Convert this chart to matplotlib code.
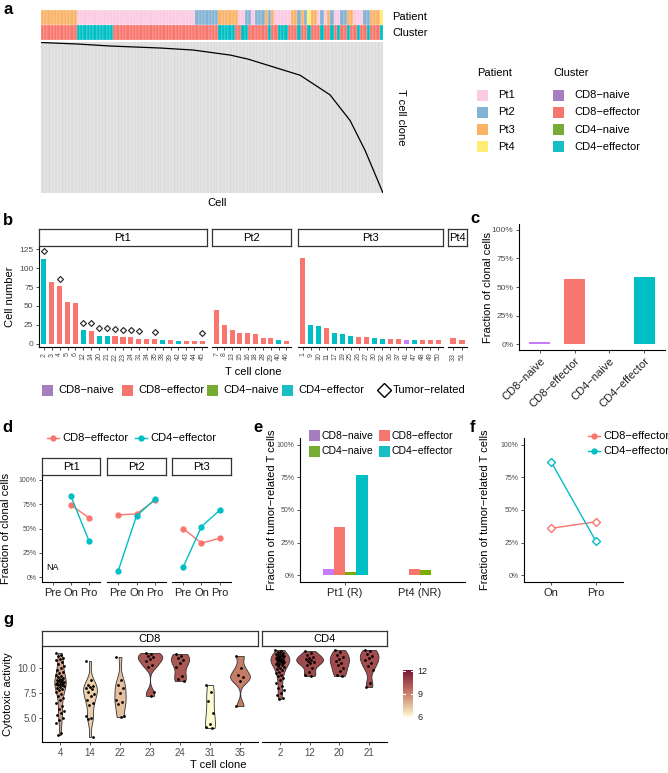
import numpy as np
import matplotlib
matplotlib.use("Agg")
import matplotlib.pyplot as plt
from matplotlib.patches import Rectangle
from matplotlib.lines import Line2D
from matplotlib.colors import LinearSegmentedColormap, Normalize

plt.rcParams['font.family'] = ['Liberation Sans', 'DejaVu Sans']

# ---------------- data ----------------
# panel a: per-column annotation (run lengths) and clone curve
patient_runs = [('Pt3', 11), ('Pt1', 36), ('Pt2', 7), ('Pt3', 6), ('Pt1', 2), ('Pt2', 2), ('Pt1', 1),
                ('Pt2', 3), ('Pt3', 1), ('Pt2', 1), ('Pt3', 1), ('Pt1', 5), ('Pt3', 2), ('Pt2', 1),
                ('Pt3', 1), ('Pt2', 1), ('Pt4', 1), ('Pt3', 2), ('Pt1', 1), ('Pt2', 1), ('Pt1', 1),
                ('Pt3', 1), ('Pt2', 1), ('Pt1', 2), ('Pt2', 2), ('Pt3', 2), ('Pt1', 3), ('Pt2', 2),
                ('Pt3', 3), ('Pt4', 1)]
cluster_runs = [('CD8-effector', 11), ('CD4-effector', 11), ('CD8-effector', 32), ('CD4-effector', 5),
                ('CD8-effector', 2), ('CD4-effector', 2), ('CD8-effector', 6), ('CD4-effector', 1),
                ('CD8-effector', 2), ('CD4-effector', 3), ('CD8-effector', 3), ('CD4-effector', 1),
                ('CD8-effector', 2), ('CD4-effector', 1), ('CD8-effector', 3), ('CD4-effector', 1),
                ('CD8-effector', 2), ('CD4-effector', 1), ('CD8-effector', 1), ('CD4-effector', 1),
                ('CD8-effector', 2), ('CD4-effector', 1), ('CD8-effector', 2), ('CD4-effector', 1),
                ('CD8-effector', 2), ('CD4-effector', 1), ('CD8-effector', 3), ('CD4-effector', 1)]
curve_cells = [0, 112, 212, 364, 464, 576, 630, 788, 879, 940, 986, 1040]
curve_clone = [1, 4, 8, 12, 16, 26, 34, 66, 105, 156, 216, 300]
n_cells, n_clones = 1040, 300

# panel b: clone sizes per patient
pt1_clone = ['2', '3', '4', '5', '6', '12', '14', '20', '21', '22', '23', '24', '31', '34', '35', '38', '39', '42', '43', '44', '45']
pt1_count = [112, 81, 76, 55, 54, 18, 17, 11, 11, 10, 9, 9, 7, 6, 6, 5, 5, 4, 4, 4, 4]
pt1_type = ['CD4-effector', 'CD8-effector', 'CD8-effector', 'CD8-effector', 'CD8-effector', 'CD4-effector',
            'CD8-effector', 'CD4-effector', 'CD4-effector', 'CD8-effector', 'CD8-effector', 'CD8-effector',
            'CD8-effector', 'CD8-effector', 'CD8-effector', 'CD4-effector', 'CD8-effector', 'CD4-effector',
            'CD8-effector', 'CD8-effector', 'CD8-effector']
pt1_tumor = [1, 0, 1, 0, 0, 1, 1, 1, 1, 1, 1, 1, 1, 0, 1, 0, 0, 0, 0, 0, 1]
pt2_clone = ['7', '8', '13', '15', '16', '18', '28', '29', '40', '46']
pt2_count = [45, 25, 18, 14, 14, 13, 8, 8, 5, 4]
pt2_type = ['CD8-effector'] * 8 + ['CD4-effector', 'CD8-effector']
pt3_clone = ['1', '9', '10', '11', '17', '19', '25', '26', '27', '30', '32', '36', '37', '41', '47', '48', '49', '50']
pt3_count = [113, 25, 24, 21, 15, 13, 10, 9, 9, 8, 7, 6, 6, 5, 5, 5, 5, 5]
pt3_type = ['CD8-effector', 'CD4-effector', 'CD4-effector', 'CD8-effector', 'CD4-effector', 'CD4-effector',
            'CD4-effector', 'CD8-effector', 'CD8-effector', 'CD4-effector', 'CD4-effector', 'CD8-effector',
            'CD8-effector', 'CD8-naive', 'CD4-effector', 'CD8-effector', 'CD8-effector', 'CD8-effector']
pt4_clone = ['33', '51']
pt4_count = [8, 5]
pt4_type = ['CD8-effector', 'CD8-effector']

# panel c
c_cluster = ['CD8−naive', 'CD8−effector', 'CD4−naive', 'CD4−effector']
c_frac = [2, 57, 0.5, 59]

# panel d
d_time = ['Pre', 'On', 'Pro']
d_patients = ['Pt1', 'Pt2', 'Pt3']
d_cd8e = [[np.nan, 74, 61], [64, 65, 79], [50, 35, 40]]
d_cd4e = [[np.nan, 83, 37], [6, 63, 80], [10, 52, 69]]

# panel e
e_groups = ['Pt1 (R)', 'Pt4 (NR)']
e_cd8n = [5, 0]
e_cd8e = [37, 5]
e_cd4n = [3, 4]
e_cd4e = [77, 0]

# panel f
f_time = ['On', 'Pro']
f_cd8e = [36, 41]
f_cd4e = [87, 26]

# panel g: cytotoxic activity per cell
g_cd8_clone = ['4', '14', '22', '23', '24', '31', '35']
g_cd4_clone = ['2', '12', '20', '21']
g_vals = {
    '4': [11.5, 11.3, 11.2, 11.0, 10.9, 10.8, 10.6, 10.4, 10.2, 10.0, 9.8, 9.6, 9.5, 9.3, 9.2, 9.1, 9.0,
          8.9, 8.8, 8.8, 8.7, 8.6, 8.6, 8.5, 8.5, 8.4, 8.4, 8.3, 8.3, 8.2, 8.1, 8.0, 7.9, 7.8, 7.6, 7.4,
          7.2, 7.0, 6.8, 6.5, 6.2, 5.9, 5.7, 5.5, 5.3, 5.0, 4.8, 4.5, 3.5, 3.3],
    '14': [10.7, 8.8, 8.3, 8.2, 8.1, 8.0, 7.9, 7.6, 7.4, 7.2, 6.8, 6.5, 6.3, 5.2, 5.0, 4.9, 3.1],
    '22': [11.1, 8.8, 8.3, 8.0, 7.5, 6.8, 6.6, 6.4, 5.2, 5.1],
    '23': [11.5, 11.4, 11.2, 11.1, 10.9, 10.7, 10.3, 10.1, 7.6, 7.2],
    '24': [11.4, 11.2, 11.0, 10.8, 10.5, 10.1, 9.2, 8.9, 8.7],
    '31': [8.3, 7.6, 6.7, 5.5, 4.4, 4.1, 4.0],
    '35': [11.2, 10.0, 9.3, 9.1, 8.7, 6.2],
    '2': [11.8, 11.7, 11.6, 11.5, 11.5, 11.4, 11.3, 11.3, 11.2, 11.2, 11.1, 11.1, 11.0, 11.0, 10.9, 10.9,
          10.8, 10.8, 10.8, 10.7, 10.7, 10.6, 10.6, 10.5, 10.5, 10.4, 10.4, 10.3, 10.2, 10.1, 10.0, 9.9,
          9.8, 9.6, 9.5, 9.3, 9.2, 9.0, 8.8, 8.5, 8.2, 8.0, 7.8, 7.5, 7.3, 7.0, 6.9],
    '12': [11.7, 11.5, 11.3, 11.1, 11.0, 10.9, 10.8, 10.7, 10.6, 10.5, 10.3, 10.0, 9.6, 9.3, 9.2],
    '20': [11.8, 11.6, 11.3, 11.1, 10.9, 10.7, 10.5, 10.3, 10.0, 9.7, 9.3, 9.2],
    '21': [11.8, 11.7, 11.4, 11.2, 11.0, 10.8, 10.5, 10.2, 9.8, 8.5, 8.1],
}

# ---------------- style ----------------
pt_col = {'Pt1': '#FBCBE3', 'Pt2': '#84B2D4', 'Pt3': '#F9B468', 'Pt4': '#FFEC74'}
cl_col = {'CD8-naive': '#C77CFF', 'CD8-effector': '#F8766D', 'CD4-naive': '#7CAE00', 'CD4-effector': '#00BFC4'}
key_col = {'CD8-naive': '#A67DBF', 'CD8-effector': '#F4766F', 'CD4-naive': '#76AB34', 'CD4-effector': '#17BEC3'}
GREY = '#4D4D4D'

W, H = 668, 773
fig = plt.figure(figsize=(W / 100, H / 100), dpi=100)


def box(l, t, r, b):
    return fig.add_axes([l / W, 1 - b / H, (r - l) / W, (b - t) / H])


def ftext(x, y, s, **kw):
    fig.text(x / W, 1 - y / H, s, **kw)


def classic(ax, left=True):
    ax.spines[['top', 'right']].set_visible(False)
    for s in ('left', 'bottom'):
        ax.spines[s].set_linewidth(0.8)
    ax.tick_params(length=2.5, width=0.6, color='#333333', labelcolor=GREY, pad=1.5)
    if not left:
        ax.spines['left'].set_visible(False)
        ax.tick_params(axis='y', left=False, labelleft=False)
    ax.patch.set_alpha(0)


def strip(l, t, r, b, label):
    sa = box(l, t, r, b)
    sa.set_xticks([])
    sa.set_yticks([])
    for s in sa.spines.values():
        s.set_linewidth(0.9)
        s.set_color('#333333')
    sa.text(0.5, 0.45, label, ha='center', va='center', fontsize=8, transform=sa.transAxes)


def key_box(x, y, color, label, size=11, gap=5, fs=8):
    fig.add_artist(Rectangle((x / W, 1 - (y + size / 2) / H), size / W, size / H,
                             transform=fig.transFigure, facecolor=color, edgecolor='none'))
    ftext(x + size + gap, y, label, fontsize=fs, va='center', ha='left')


def key_line(x, y, color, label, marker='o'):
    fig.add_artist(Line2D([x / W, (x + 12) / W], [1 - y / H, 1 - y / H], color=color, lw=1,
                          transform=fig.transFigure))
    fig.add_artist(Line2D([(x + 6) / W], [1 - y / H], marker=marker, ms=3.5, color=color,
                          transform=fig.transFigure))
    ftext(x + 15, y, label, fontsize=8, va='center', ha='left')


def panel_letter(x, y, s):
    ftext(x, y, s, fontsize=12, fontweight='bold', va='baseline', ha='left')


# ---------------- panel a ----------------
pat_seq = [p for p, n in patient_runs for _ in range(n)]
clu_seq = [c for c, n in cluster_runs for _ in range(n)]
ncol = len(pat_seq)
axs = box(40.7, 10, 383, 40)
for i, (p, c) in enumerate(zip(pat_seq, clu_seq)):
    axs.add_patch(Rectangle((i, 0), 1, 1, facecolor=pt_col[p], edgecolor='white', lw=0.15))
    axs.add_patch(Rectangle((i, 1), 1, 1, facecolor=cl_col[c], edgecolor='white', lw=0.15))
axs.set_xlim(0, ncol)
axs.set_ylim(2, 0)
axs.axis('off')
ftext(392, 17.5, 'Patient', fontsize=8, va='center')
ftext(392, 33, 'Cluster', fontsize=8, va='center')

axh = box(40.7, 42, 383, 193)
axh.set_facecolor('#DEDEDE')
for k in range(1, ncol):
    axh.axvline(k * n_cells / ncol, color='#E9E9E9', lw=0.5)
axh.plot(curve_cells, curve_clone, color='black', lw=0.9)
axh.set_xlim(0, n_cells)
axh.set_ylim(n_clones, 0)
axh.set_xticks([])
axh.set_yticks([])
for s in axh.spines.values():
    s.set_visible(False)
ftext(217, 203, 'Cell', fontsize=8, ha='center', va='center')
ftext(401, 117, 'T cell clone', fontsize=8, ha='center', va='center', rotation=-90)

ftext(477, 73, 'Patient', fontsize=8, va='center')
for i, p in enumerate(['Pt1', 'Pt2', 'Pt3', 'Pt4']):
    key_box(477, 95 + i * 17.3, pt_col[p], p, gap=10)
ftext(553, 73, 'Cluster', fontsize=8, va='center')
for i, c in enumerate(['CD8-naive', 'CD8-effector', 'CD4-naive', 'CD4-effector']):
    key_box(553, 95 + i * 17.3, key_col[c], c.replace('-', '−'), gap=10)
panel_letter(3, 14, 'a')

# ---------------- panel b ----------------
b_sets = [('Pt1', pt1_clone, pt1_count, pt1_type, pt1_tumor, 39, 207),
          ('Pt2', pt2_clone, pt2_count, pt2_type, [0] * len(pt2_clone), 212, 291),
          ('Pt3', pt3_clone, pt3_count, pt3_type, [0] * len(pt3_clone), 298, 443),
          ('Pt4', pt4_clone, pt4_count, pt4_type, [0] * len(pt4_clone), 448, 467)]
for j, (pt, clones, counts, types, tumor, l, r) in enumerate(b_sets):
    ax = box(l, 246, r, 347)
    x = np.arange(1, len(clones) + 1)
    ax.bar(x, counts, width=0.65, color=[cl_col[t] for t in types])
    tx = [xi for xi, t in zip(x, tumor) if t]
    ty = [c + 10 for c, t in zip(counts, tumor) if t]
    ax.scatter(tx, ty, marker='D', s=9, facecolor='white', edgecolor='#333333', lw=0.9, zorder=3)
    ax.set_xlim(0.4, len(clones) + 0.6)
    ax.set_ylim(-4, 129)
    ax.set_xticks(x)
    ax.set_xticklabels(clones, rotation=90, fontsize=5)
    ax.set_yticks([0, 25, 50, 75, 100, 125])
    ax.tick_params(axis='y', labelsize=6)
    classic(ax, left=(j == 0))
    strip(l, 229, r, 246, pt)
ftext(10, 297, 'Cell number', fontsize=8, rotation=90, ha='center', va='center')
ftext(253, 372, 'T cell clone', fontsize=8, ha='center', va='center')
key_box(42, 390, key_col['CD8-naive'], 'CD8−naive')
key_box(122, 390, key_col['CD8-effector'], 'CD8−effector')
key_box(207, 390, key_col['CD4-naive'], 'CD4−naive')
key_box(282, 390, key_col['CD4-effector'], 'CD4−effector')
fig.add_artist(Line2D([384 / W], [1 - 390 / H], marker='D', ms=7, mfc='white', mec='black', mew=1,
                      transform=fig.transFigure))
ftext(393, 390, 'Tumor−related', fontsize=8, va='center')
panel_letter(3, 225, 'b')

# ---------------- panel c ----------------
ax = box(519, 224, 665, 350)
xc = np.arange(1, 5)
ax.bar(xc, c_frac, width=0.6, color=[cl_col[c.replace('−', '-')] for c in c_cluster])
ax.set_xlim(0.4, 4.6)
ax.set_ylim(-5, 105)
ax.set_yticks([0, 25, 50, 75, 100])
ax.set_yticklabels(['0%', '25%', '50%', '75%', '100%'], fontsize=6)
ax.set_xticks(xc)
ax.set_xticklabels(c_cluster, rotation=45, ha='right', va='top', rotation_mode='anchor', fontsize=8)
classic(ax)
ax.tick_params(axis='x', labelcolor='#222222')
ftext(488, 287, 'Fraction of clonal cells', fontsize=8, rotation=90, ha='center', va='center')
panel_letter(470, 223, 'c')

# ---------------- panel d ----------------
d_bounds = [(42, 100), (107, 166), (172, 231)]
for j, pt in enumerate(d_patients):
    l, r = d_bounds[j]
    ax = box(l, 475, r, 582)
    x = np.arange(1, 4)
    ax.plot(x, d_cd8e[j], color=cl_col['CD8-effector'], lw=1, marker='o', ms=3.5)
    ax.plot(x, d_cd4e[j], color=cl_col['CD4-effector'], lw=1, marker='o', ms=3.5)
    if np.isnan(d_cd8e[j][0]):
        ax.text(1, 10, 'NA', fontsize=6.5, ha='center', va='center')
    ax.set_xlim(0.4, 3.6)
    ax.set_ylim(-5, 105)
    ax.set_xticks(x)
    ax.set_xticklabels(d_time, fontsize=8)
    ax.set_yticks([0, 25, 50, 75, 100])
    ax.set_yticklabels(['0%', '25%', '50%', '75%', '100%'], fontsize=5)
    classic(ax, left=(j == 0))
    ax.tick_params(axis='x', labelcolor='#222222')
    strip(l, 458, r, 475, pt)
ftext(6, 528, 'Fraction of clonal cells', fontsize=8, rotation=90, ha='center', va='center')
key_line(47, 438, cl_col['CD8-effector'], 'CD8−effector')
key_line(135, 438, cl_col['CD4-effector'], 'CD4−effector')
panel_letter(2, 432, 'd')

# ---------------- panel e ----------------
ax = box(300, 438, 465, 582)
xe = np.arange(1, 3)
bw = 0.15
for k, (vals, c) in enumerate([(e_cd8n, 'CD8-naive'), (e_cd8e, 'CD8-effector'),
                               (e_cd4n, 'CD4-naive'), (e_cd4e, 'CD4-effector')]):
    ax.bar(xe + (k - 1.5) * bw, vals, width=bw, color=cl_col[c])
ax.set_xlim(0.4, 2.6)
ax.set_ylim(-5, 105)
ax.set_xticks(xe)
ax.set_xticklabels(e_groups, fontsize=8)
ax.set_yticks([0, 25, 50, 75, 100])
ax.set_yticklabels(['0%', '25%', '50%', '75%', '100%'], fontsize=5)
classic(ax)
ax.tick_params(axis='x', labelcolor='#222222')
ftext(272, 510, 'Fraction of tumor−related T cells', fontsize=8, rotation=90, ha='center', va='center')
key_box(309, 436, key_col['CD8-naive'], 'CD8−naive', gap=2, fs=7.5)
key_box(379, 436, key_col['CD8-effector'], 'CD8−effector', gap=2, fs=7.5)
key_box(309, 451, key_col['CD4-naive'], 'CD4−naive', gap=2, fs=7.5)
key_box(379, 451, key_col['CD4-effector'], 'CD4−effector', gap=2, fs=7.5)
panel_letter(253, 432, 'e')

# ---------------- panel f ----------------
ax = box(524, 438, 623, 582)
xf = np.arange(1, 3)
ax.plot(xf, f_cd8e, color=cl_col['CD8-effector'], lw=1, marker='D', ms=4, mfc='white', mew=1)
ax.plot(xf, f_cd4e, color=cl_col['CD4-effector'], lw=1, marker='D', ms=4, mfc='white', mew=1)
ax.set_xlim(0.4, 2.6)
ax.set_ylim(-5, 105)
ax.set_xticks(xf)
ax.set_xticklabels(f_time, fontsize=8)
ax.set_yticks([0, 25, 50, 75, 100])
ax.set_yticklabels(['0%', '25%', '50%', '75%', '100%'], fontsize=5)
classic(ax)
ax.tick_params(axis='x', labelcolor='#222222')
ftext(485, 510, 'Fraction of tumor−related T cells', fontsize=8, rotation=90, ha='center', va='center')
key_line(588, 436, cl_col['CD8-effector'], 'CD8−effector')
key_line(588, 451, cl_col['CD4-effector'], 'CD4−effector')
panel_letter(470, 432, 'f')

# ---------------- panel g ----------------
cmap = LinearSegmentedColormap.from_list('cyto', ['#FFFBD0', '#C8806A', '#7B1530'])
norm = Normalize(5.9, 12.1)


def bw_nrd0(v):
    sd = v.std(ddof=1)
    iqr = np.subtract(*np.percentile(v, [75, 25]))
    lo = min(sd, iqr / 1.34) if iqr > 0 else sd
    return 0.9 * lo * len(v) ** -0.2


dens = {}
for cl, vals in g_vals.items():
    v = np.asarray(vals)
    h = bw_nrd0(v)
    ys = np.linspace(v.min(), v.max(), 200)
    d = np.exp(-0.5 * ((ys[:, None] - v[None, :]) / h) ** 2).sum(1) / (len(v) * h * np.sqrt(2 * np.pi))
    dens[cl] = (ys, d)
dmax = max(d.max() for ys, d in dens.values())

for j, (clones, l, r, lab) in enumerate([(g_cd8_clone, 42, 258, 'CD8'), (g_cd4_clone, 262, 387, 'CD4')]):
    ax = box(l, 646, r, 742)
    for i, cl in enumerate(clones):
        xi = i + 1
        ys, d = dens[cl]
        w = d / dmax * 0.45
        v = np.asarray(g_vals[cl])
        ax.fill_betweenx(ys, xi - w, xi + w, facecolor=cmap(norm(v.mean())), edgecolor='#333333', lw=0.6)
        jit = ((np.arange(len(v)) * 0.618034) % 1 - 0.5) * 0.3
        ax.scatter(xi + jit, v, s=4, color='black', lw=0, zorder=3)
    ax.set_xlim(0.4, len(clones) + 0.6)
    ax.set_ylim(2.6, 12.2)
    ax.set_xticks(np.arange(1, len(clones) + 1))
    ax.set_xticklabels(clones, fontsize=7)
    ax.set_yticks([5.0, 7.5, 10.0])
    ax.set_yticklabels(['5.0', '7.5', '10.0'], fontsize=7)
    classic(ax, left=(j == 0))
    strip(l, 631, r, 646, lab)
ftext(218, 765, 'T cell clone', fontsize=8, ha='center', va='center')
ftext(8, 694, 'Cytotoxic activity', fontsize=8, rotation=90, ha='center', va='center')
panel_letter(3, 624, 'g')

cax = box(403, 670, 413, 717)
grad = np.linspace(5.9, 12.1, 200)[:, None]
cax.imshow(grad, cmap=cmap, norm=norm, origin='lower', aspect='auto', extent=[0, 1, 5.9, 12.1])
for t in (6, 9, 12):
    cax.plot([0, 0.22], [t, t], color='white', lw=0.8)
    cax.plot([0.78, 1], [t, t], color='white', lw=0.8)
cax.set_xlim(0, 1)
cax.set_ylim(5.9, 12.1)
cax.set_xticks([])
cax.yaxis.tick_right()
cax.set_yticks([6, 9, 12])
cax.tick_params(axis='y', length=0, labelsize=6.5, labelcolor='#222222', pad=3)
for s in cax.spines.values():
    s.set_visible(False)

fig.savefig('out.png', dpi=100)
